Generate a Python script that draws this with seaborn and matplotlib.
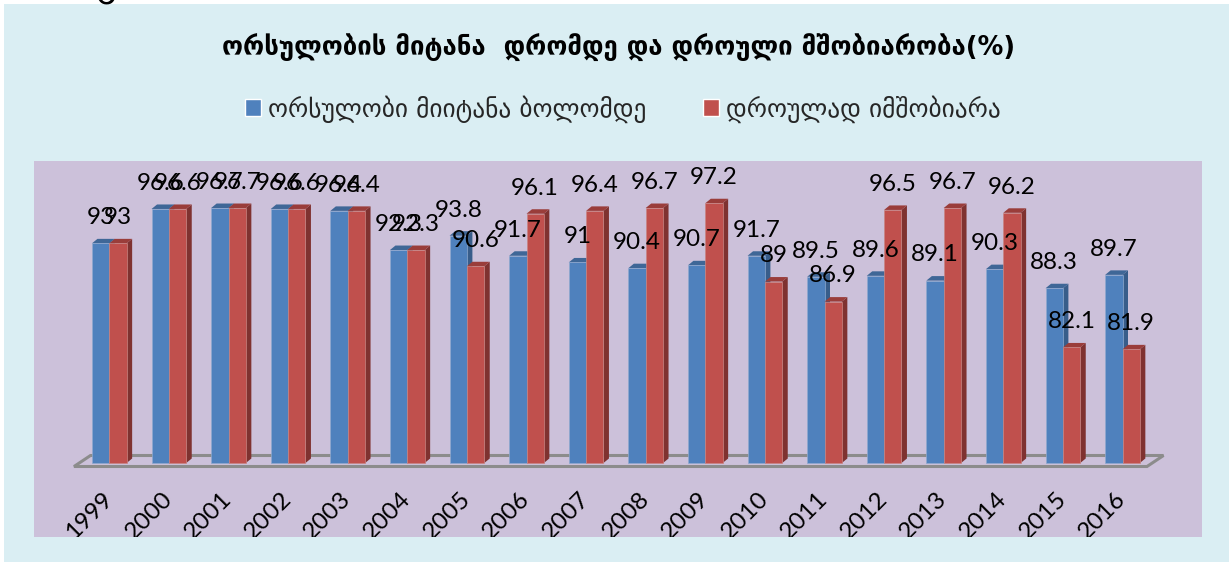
import matplotlib
matplotlib.use("Agg")
import matplotlib.pyplot as plt
from matplotlib.patches import Polygon, Rectangle
import pandas as pd
import seaborn as sns

years = [str(y) for y in range(1999, 2017)]
completed = [93, 96.6, 96.7, 96.6, 96.4, 92.3, 93.8, 91.7, 91, 90.4, 90.7, 91.7, 89.5, 89.6, 89.1, 90.3, 88.3, 89.7]
on_time = [93, 96.6, 96.7, 96.6, 96.4, 92.3, 90.6, 96.1, 96.4, 96.7, 97.2, 89, 86.9, 96.5, 96.7, 96.2, 82.1, 81.9]
series_names = ["ორსულობი მიიტანა ბოლომდე", "დროულად იმშობიარა"]
title_text = "ორსულობის მიტანა  დრომდე და დროული მშობიარობა(%)"

W, H = 1229, 562
BASE = 70
PANEL, PLOT = "#DAEEF3", "#CCC1DA"
front = ["#4F81BD", "#C0504D"]
top = ["#3F6797", "#9A3D3A"]
side = ["#385D8A", "#7F3230"]

sns.set_theme(style="white")
plt.rcParams["font.family"] = ["Lato", "DejaVu Sans"]

fig = plt.figure(figsize=(W / 100, H / 100), dpi=100, facecolor="white")
fig.add_artist(Rectangle((4 / W, 0), 1 - 4 / W, 1 - 4 / H, transform=fig.transFigure, fc=PANEL, ec="none", zorder=-5))
ax = fig.add_axes([34 / W, 1 - 537 / H, (1202 - 34) / W, (537 - 161) / H], facecolor=PLOT)

df = pd.DataFrame({
    "year": years * 2,
    "value": completed + on_time,
    "series": [series_names[0]] * len(years) + [series_names[1]] * len(years),
})
sns.barplot(data=df, x="year", y="value", hue="series", palette=front, width=0.582, gap=0, saturation=1, ax=ax, legend=True)
handles, labels = ax.get_legend_handles_labels()
ax.get_legend().remove()

px_x, px_y = 59.6, 9.55
ax.set_xlim((34 - 109.3) / px_x, (1202 - 109.3) / px_x)
ax.set_ylim(BASE - (537 - 463) / px_y, BASE + (463 - 161) / px_y)
dx, dy = 5.5 / px_x, 4.5 / px_y

# 3-D floor
fl, fr = (74 - 109.3) / px_x, (1147 - 109.3) / px_x
fy, by = BASE - 3.5 / px_y, BASE + 7.5 / px_y
ax.add_patch(Polygon([(fl, fy), (fr, fy), (fr + 16.5 / px_x, by), (fl + 16.5 / px_x, by)], closed=True,
                     fc=PLOT, ec="#8C8C8C", lw=2.2, zorder=1))

for s, cont in enumerate(ax.containers):
    base_z = 3 + 2 * s
    for bar, v in zip(cont, df["value"][df["series"] == series_names[s]]):
        bar.set_y(BASE)
        bar.set_height(v - BASE)
        bar.set_zorder(base_z + 1)
        bar.set_edgecolor("#8FA9CF" if s == 0 else "#C98582")
        bar.set_linewidth(0.5)
        x0, x1 = bar.get_x(), bar.get_x() + bar.get_width()
        ax.add_patch(Polygon([(x1, BASE), (x1 + dx, BASE + dy), (x1 + dx, v + dy), (x1, v)], closed=True,
                             fc=side[s], ec="none", zorder=base_z))
        ax.add_patch(Polygon([(x0, v), (x0 + dx, v + dy), (x1 + dx, v + dy), (x1, v)], closed=True,
                             fc=top[s], ec="none", zorder=base_z))
        ax.annotate(f"{v:g}", (x0 + bar.get_width() / 2, v), xytext=(0, 18.5), textcoords="offset points",
                    ha="center", va="center", fontsize=17.5, color="black", zorder=20)

ax.set_xlabel("")
ax.set_ylabel("")
ax.set_yticks([])
ax.tick_params(axis="x", length=0, pad=-30)
ax.set_xticks(range(len(years)), years, rotation=45, ha="right", va="center", rotation_mode="anchor", fontsize=17.5)
for lab in ax.get_xticklabels():
    lab.set_clip_box(ax.bbox)
    lab.set_clip_on(True)
    lab.set_color("black")
sns.despine(ax=ax, left=True, bottom=True, right=True, top=True)

fig.text(619 / W, 1 - 48 / H, title_text, ha="center", va="center", fontsize=18.5, fontweight="bold",
         family=["DejaVu Sans"], color="black")
fig.legend(handles, labels, loc="center", bbox_to_anchor=(623 / W, 1 - 109 / H), ncol=2, frameon=False,
           handlelength=0.62, handleheight=0.62, handletextpad=0.28, columnspacing=2.25,
           prop={"family": ["DejaVu Sans"], "size": 18.3})
# clipped fragment of a line of text above the chart
fig.text(106 / W, 1 + 4 / H, "გ", ha="center", va="baseline", fontsize=26, family=["DejaVu Sans"], color="black")

fig.savefig("out.png", dpi=100, facecolor="white")
